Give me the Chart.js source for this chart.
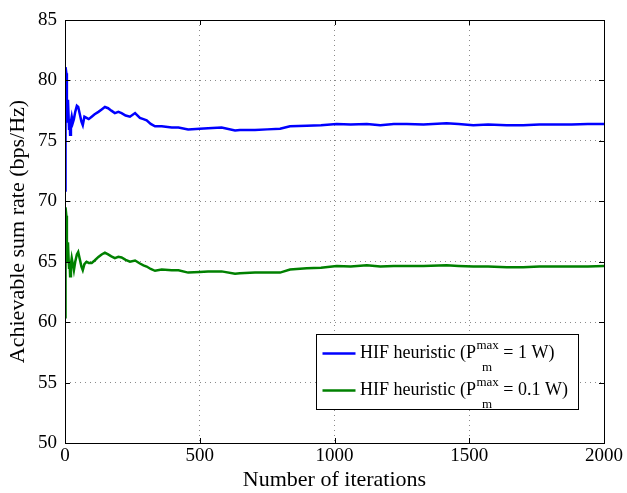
<!DOCTYPE html>
<html><head><meta charset="utf-8">
<script src="https://cdn.jsdelivr.net/npm/chart.js@4"></script>
<style>html,body{margin:0;padding:0;background:#fff}#wrap{width:627px;height:493px}</style>
</head><body><div id="wrap"><canvas id="c" width="627" height="493"></canvas></div>
<script>
const iterations = [0, 1, 3, 5, 7, 9, 11, 13, 15, 17, 19, 22, 25, 29, 33, 38, 44, 49, 55, 61, 66, 72, 80, 88, 99, 110, 124, 136, 148, 160, 172, 185, 198, 210, 225, 241, 260, 278, 291, 303, 318, 334, 359, 396, 421, 457, 500, 531, 581, 631, 649, 705, 750, 798, 835, 897, 950, 1008, 1060, 1120, 1170, 1220, 1268, 1330, 1416, 1460, 1515, 1570, 1639, 1700, 1760, 1824, 1880, 1940, 2000];
const rateHigh = [70.9, 74.0, 81.1, 80.6, 77.0, 76.6, 78.4, 77.2, 76.0, 76.8, 75.5, 76.6, 77.0, 76.5, 76.8, 77.4, 77.9, 77.8, 77.2, 76.6, 76.3, 77.0, 76.9, 76.8, 77.0, 77.2, 77.4, 77.6, 77.8, 77.7, 77.5, 77.3, 77.4, 77.3, 77.1, 77.0, 77.3, 76.9, 76.8, 76.7, 76.4, 76.2, 76.2, 76.1, 76.1, 75.95, 76.0, 76.05, 76.1, 75.85, 75.9, 75.9, 75.95, 76.0, 76.2, 76.25, 76.3, 76.4, 76.35, 76.4, 76.3, 76.4, 76.4, 76.35, 76.45, 76.4, 76.3, 76.35, 76.3, 76.3, 76.35, 76.35, 76.35, 76.4, 76.4];
const rateLow = [60.4, 63.0, 69.5, 68.8, 66.5, 65.0, 66.6, 65.4, 64.5, 65.0, 63.8, 64.8, 65.3, 64.8, 64.3, 65.0, 65.6, 65.8, 65.2, 64.6, 64.3, 64.8, 65.0, 64.9, 64.9, 65.1, 65.4, 65.6, 65.75, 65.6, 65.45, 65.3, 65.4, 65.35, 65.15, 65.0, 65.1, 64.85, 64.7, 64.6, 64.4, 64.25, 64.35, 64.3, 64.3, 64.1, 64.15, 64.2, 64.2, 64.0, 64.05, 64.1, 64.1, 64.1, 64.35, 64.45, 64.5, 64.65, 64.6, 64.7, 64.6, 64.65, 64.65, 64.65, 64.7, 64.65, 64.6, 64.6, 64.55, 64.55, 64.6, 64.6, 64.6, 64.6, 64.65];
const xTicks = [0, 500, 1000, 1500, 2000];
const yTicks = [50, 55, 60, 65, 70, 75, 80, 85];
const legendPrefix = 'HIF heuristic (P';
const legendSup = 'max';
const legendSub = 'm';
const legendSuffixes = ['= 1 W)', '= 0.1 W)'];
const seriesLabels = ['HIF heuristic (Pm max = 1 W)', 'HIF heuristic (Pm max = 0.1 W)'];
const seriesColors = ['#0000ff', '#008000'];
const xTitle = 'Number of iterations';
const yTitle = 'Achievable sum rate (bps/Hz)';

const FONT = "'Liberation Serif', 'Times New Roman', serif";

function toPoints(vals) { return iterations.map((x, i) => ({ x: x, y: vals[i] })); }

const boxPlugin = {
  id: 'boxTicks',
  afterDraw(chart) {
    const ctx = chart.ctx, a = chart.chartArea;
    const xs = chart.scales.x, ys = chart.scales.y;
    ctx.save();
    ctx.strokeStyle = '#000';
    ctx.lineWidth = 1;
    ctx.beginPath();
    xTicks.forEach(v => {
      const px = Math.round(xs.getPixelForValue(v)) + 0.5;
      ctx.moveTo(px, a.bottom); ctx.lineTo(px, a.bottom - 5);
      ctx.moveTo(px, a.top); ctx.lineTo(px, a.top + 5);
    });
    yTicks.forEach(v => {
      const py = Math.round(ys.getPixelForValue(v)) + 0.5;
      ctx.moveTo(a.left, py); ctx.lineTo(a.left + 5, py);
      ctx.moveTo(a.right, py); ctx.lineTo(a.right - 5, py);
    });
    ctx.stroke();
    ctx.strokeRect(Math.round(a.left) + 0.5, Math.round(a.top) + 0.5, Math.round(a.right - a.left), Math.round(a.bottom - a.top));

    // legend
    const bx = 316.5, by = 334.5, rowH = 37;
    const mainF = '18px ' + FONT, smallF = '13px ' + FONT;
    const textX = 360;
    let maxW = 0;
    const rows = legendSuffixes.map(suf => {
      ctx.font = mainF;
      const w1 = ctx.measureText(legendPrefix).width;
      ctx.font = smallF;
      const w2 = ctx.measureText(legendSup).width;
      ctx.font = mainF;
      const w3 = ctx.measureText(suf).width;
      maxW = Math.max(maxW, w1 + w2 + 5 + w3);
      return { w1, w2, suf };
    });
    const bw = Math.round(textX - bx + maxW + 10), bh = 75;
    ctx.fillStyle = '#fff';
    ctx.fillRect(bx, by, bw, bh);
    ctx.strokeStyle = '#000';
    ctx.lineWidth = 1;
    ctx.strokeRect(bx, by, bw, bh);
    rows.forEach((r, i) => {
      const cy = by + 19 + i * rowH;
      ctx.strokeStyle = seriesColors[i];
      ctx.lineWidth = 2.5;
      ctx.beginPath(); ctx.moveTo(bx + 6, cy); ctx.lineTo(bx + 39, cy); ctx.stroke();
      ctx.fillStyle = '#000';
      ctx.textBaseline = 'middle';
      ctx.textAlign = 'left';
      ctx.font = mainF;
      ctx.fillText(legendPrefix, textX, cy);
      ctx.font = smallF;
      ctx.fillText(legendSup, textX + r.w1 + 0.5, cy - 8);
      ctx.fillText(legendSub, textX + r.w1 + 6, cy + 14);
      ctx.font = mainF;
      ctx.fillText(r.suf, textX + r.w1 + r.w2 + 5, cy);
    });
    ctx.restore();
  }
};

new Chart(document.getElementById('c'), {
  type: 'line',
  data: {
    datasets: [
      { label: seriesLabels[0], data: toPoints(rateHigh), borderColor: seriesColors[0], borderWidth: 2.5, pointRadius: 0, fill: false, tension: 0 },
      { label: seriesLabels[1], data: toPoints(rateLow), borderColor: seriesColors[1], borderWidth: 2.5, pointRadius: 0, fill: false, tension: 0 }
    ]
  },
  options: {
    responsive: false,
    animation: false,
    devicePixelRatio: 1,
    layout: { padding: { top: 20, right: 23, left: 0, bottom: 0 } },
    plugins: { legend: { display: false }, tooltip: { enabled: false } },
    scales: {
      x: {
        type: 'linear', min: 0, max: 2000,
        afterBuildTicks(s) { s.ticks = xTicks.map(v => ({ value: v })); },
        afterFit(s) { s.height = 50; },
        grid: { color: '#8a8a8a', lineWidth: 1, drawTicks: false },
        border: { display: false, dash: [1, 4] },
        ticks: { font: { family: FONT, size: 19 }, color: '#000', padding: 2, maxRotation: 0, callback: v => String(v) },
        title: { display: true, text: xTitle, font: { family: FONT, size: 22 }, color: '#000', padding: { top: 0, bottom: 0 } }
      },
      y: {
        type: 'linear', min: 50, max: 85,
        afterBuildTicks(s) { s.ticks = yTicks.map(v => ({ value: v })); },
        afterFit(s) { s.width = 65; },
        grid: { color: '#8a8a8a', lineWidth: 1, drawTicks: false },
        border: { display: false, dash: [1, 4] },
        ticks: { font: { family: FONT, size: 19 }, color: '#000', padding: 8, callback: v => String(v) },
        title: { display: true, text: yTitle, font: { family: FONT, size: 22 }, color: '#000', padding: { top: 5, bottom: 0 } }
      }
    }
  },
  plugins: [boxPlugin]
});
</script></body></html>
